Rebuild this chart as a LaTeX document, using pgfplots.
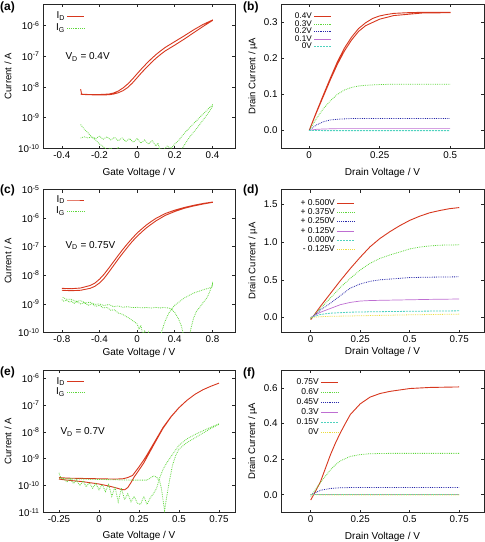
\documentclass[border=0pt]{standalone}
\usepackage{fontspec}
\setmainfont{Liberation Sans}
\usepackage{pgfplots}
\pgfplotsset{compat=1.18}
\definecolor{cred}{RGB}{215,55,30}
\definecolor{cgreen}{RGB}{95,215,60}
\definecolor{cblue}{RGB}{40,40,170}
\definecolor{cpurple}{RGB}{190,110,210}
\definecolor{ccyan}{RGB}{80,210,190}
\definecolor{cyellow}{RGB}{235,220,60}
\pgfplotsset{
 myBase/.style={scale only axis, anchor=north west,
  axis line style={black!85, line width=0.6pt},
  tick style={black!85, line width=0.6pt},
  tick align=inside, major tick length=3pt,
  tick label style={font=\fontsize{9.8}{10}\selectfont},
  xlabel style={font=\fontsize{10}{11}\selectfont},
  ylabel style={font=\fontsize{9.5}{10}\selectfont},
  /pgf/number format/assume math mode=true,
  legend plot pos=right, legend cell align=right,
  legend style={draw=none, fill=none, inner sep=0pt, row sep=0pt, anchor=north east},
  clip=true},
 rd/.style={cred, line width=0.9pt},
 gr/.style={cgreen, line width=0.8pt, densely dotted},
 bl/.style={cblue, line width=0.8pt, densely dotted},
 pu/.style={cpurple, line width=0.7pt},
 cy/.style={ccyan, line width=0.8pt, dash pattern=on 2pt off 1pt},
 ye/.style={cyellow, line width=0.8pt, densely dotted},
}
\newcommand{\supx}[1]{\textsuperscript{#1}}
\begin{document}
\begin{tikzpicture}
\useasboundingbox (0pt,0pt) rectangle (485pt,-542pt);
% ---------------- (a)
\begin{axis}[myBase, ymode=log, yminorticks=false, at={(43pt,-4pt)}, width=192pt, height=144.5pt,
 xmin=-0.5, xmax=0.52, ymin=1e-10, ymax=5e-6,
 xtick={-0.4,-0.2,0,0.2,0.4}, xticklabels={-0.4,-0.2,0,0.2,0.4},
 ytick={1e-10,1e-9,1e-8,1e-7,1e-6},
 yticklabels={10\supx{-10},10\supx{-9},10\supx{-8},10\supx{-7},10\supx{-6}},
 xlabel={Gate Voltage / V}, ylabel={Current / A},
 xlabel style={at={(axis description cs:0.5,-0.17)},anchor=center},
 ylabel style={at={(axis description cs:-0.182,0.5)},anchor=center},
 legend style={at={(axis description cs:0.219,0.955)}, font=\fontsize{10}{10}\selectfont,
   nodes={inner ysep=0.75pt, text height=7.5pt, text depth=3pt}},
]
\addplot[rd] coordinates {(-0.3,8.5e-9) (-0.295,5.9e-9) (-0.28,5.7e-9) (-0.25,5.6e-9) (-0.2,5.5e-9) (-0.15,5.6e-9) (-0.125,5.9e-9) (-0.1,6.5e-9) (-0.075,7.6e-9) (-0.05,9.6e-9) (-0.025,1.35e-8) (0,2.0e-8) (0.025,3.0e-8) (0.05,4.3e-8) (0.075,6.2e-8) (0.1,8.6e-8) (0.125,1.15e-7) (0.15,1.5e-7) (0.2,2.3e-7) (0.25,3.6e-7) (0.3,5.8e-7) (0.35,9.3e-7) (0.4,1.45e-6)
 (0.4,1.5e-6) (0.35,1.08e-6) (0.3,7.2e-7) (0.25,4.6e-7) (0.2,3.0e-7) (0.15,1.95e-7) (0.125,1.5e-7) (0.1,1.13e-7) (0.075,8.2e-8) (0.05,5.8e-8) (0.025,4.0e-8) (0,2.7e-8) (-0.025,1.8e-8) (-0.05,1.25e-8) (-0.075,9.3e-9) (-0.1,7.4e-9) (-0.125,6.4e-9) (-0.15,5.9e-9) (-0.2,5.7e-9) (-0.25,5.7e-9) (-0.3,5.8e-9)};
\addlegendentry{I\textsubscript{D}}
\addplot[gr] coordinates {(-0.3,6e-10) (-0.28,4.2e-10) (-0.26,3.2e-10) (-0.24,2.3e-10) (-0.22,1.9e-10) (-0.2,1.4e-10) (-0.18,1.15e-10) (-0.16,9e-11) (-0.14,1.05e-10) (-0.12,8e-11) (-0.1,1.1e-10) (-0.08,7e-11) (-0.06,9e-11) (-0.04,5e-11) (0,4e-11) (0.06,4e-11) (0.1,7e-11) (0.12,1.05e-10) (0.13,6e-11) (0.18,4e-11) (0.22,6e-11) (0.24,1e-10) (0.26,1.6e-10) (0.28,2.4e-10) (0.3,3.4e-10) (0.32,4.8e-10) (0.34,7e-10) (0.36,1.0e-9) (0.38,1.5e-9) (0.4,2.3e-9)
 (0.4,2.6e-9) (0.38,2.0e-9) (0.36,1.5e-9) (0.34,1.15e-9) (0.32,8.5e-10) (0.3,6.5e-10) (0.28,4.8e-10) (0.26,3.6e-10) (0.24,2.6e-10) (0.22,1.8e-10) (0.2,1.4e-10) (0.18,1.0e-10) (0.16,1.2e-10) (0.14,9e-11) (0.12,1.0e-10) (0.11,1.5e-10) (0.1,1.2e-10) (0.08,1.8e-10) (0.06,1.4e-10) (0.04,1.9e-10) (0.02,1.5e-10) (0,2.1e-10) (-0.02,1.6e-10) (-0.04,2.1e-10) (-0.06,1.7e-10) (-0.08,2.2e-10) (-0.1,1.8e-10) (-0.12,2.3e-10) (-0.14,1.9e-10) (-0.16,2.4e-10) (-0.18,2.0e-10) (-0.2,2.5e-10) (-0.22,2.1e-10) (-0.24,2.4e-10) (-0.26,2.2e-10) (-0.28,2.4e-10) (-0.3,2.2e-10)};
\addlegendentry{I\textsubscript{G}}
\node[anchor=west, font=\fontsize{10}{11}\selectfont] at (axis description cs:0.099,0.633) {V\textsubscript{D} = 0.4V};
\end{axis}
% ---------------- (b)
\begin{axis}[myBase, at={(281pt,-4pt)}, width=203pt, height=144.5pt,
 xmin=-0.1, xmax=0.62, ymin=-0.05, ymax=0.35,
 xtick={0,0.25,0.5}, xticklabels={0,0.25,0.5},
 ytick={0,0.1,0.2,0.3}, yticklabels={0.0,0.1,0.2,0.3},
 xlabel={Drain Voltage / V}, ylabel={Drain Current / µA},
 xlabel style={at={(axis description cs:0.5,-0.17)},anchor=center},
 ylabel style={at={(axis description cs:-0.138,0.5)},anchor=center},
 legend style={at={(axis description cs:0.251,0.94)}, font=\fontsize{8.2}{8.2}\selectfont,
   nodes={inner ysep=0.15pt, text height=5.8pt, text depth=1.4pt}},
]
\addplot[rd] coordinates {(0,0) (0.025,0.05) (0.05,0.098) (0.075,0.145) (0.1,0.19) (0.125,0.228) (0.15,0.258) (0.175,0.282) (0.2,0.298) (0.225,0.31) (0.25,0.317) (0.275,0.321) (0.3,0.324) (0.35,0.326) (0.4,0.327) (0.45,0.327) (0.5,0.327)
 (0.5,0.326) (0.4,0.325) (0.3,0.318) (0.25,0.308) (0.2,0.29) (0.175,0.274) (0.15,0.25) (0.125,0.22) (0.1,0.183) (0.075,0.14) (0.05,0.094) (0.025,0.048) (0,0)};
\addlegendentry{0.4V}
\addplot[gr] coordinates {(0,0) (0.025,0.032) (0.05,0.06) (0.075,0.082) (0.1,0.1) (0.125,0.112) (0.15,0.119) (0.175,0.123) (0.2,0.125) (0.25,0.127) (0.3,0.128) (0.4,0.128) (0.5,0.128)};
\addlegendentry{0.3V}
\addplot[bl] coordinates {(0,0) (0.025,0.015) (0.05,0.024) (0.075,0.029) (0.1,0.031) (0.15,0.033) (0.2,0.033) (0.3,0.033) (0.5,0.033)};
\addlegendentry{0.2V}
\addplot[pu] coordinates {(0,0) (0.025,0.003) (0.05,0.004) (0.1,0.005) (0.3,0.005) (0.5,0.005)};
\addlegendentry{0.1V}
\addplot[cy] coordinates {(0,0) (0.05,-0.0005) (0.2,-0.0005) (0.5,-0.0005)};
\addlegendentry{0V}
\end{axis}
% ---------------- (c)
\begin{axis}[myBase, ymode=log, yminorticks=false, at={(43pt,-189.5pt)}, width=192pt, height=143pt,
 xmin=-1.0, xmax=1.04, ymin=1e-10, ymax=1e-5,
 xtick={-0.8,-0.4,0,0.4,0.8}, xticklabels={-0.8,-0.4,0,0.4,0.8},
 ytick={1e-10,1e-9,1e-8,1e-7,1e-6,1e-5},
 yticklabels={10\supx{-10},10\supx{-9},10\supx{-8},10\supx{-7},10\supx{-6},10\supx{-5}},
 xlabel={Gate Voltage / V}, ylabel={Current / A},
 xlabel style={at={(axis description cs:0.5,-0.143)},anchor=center},
 ylabel style={at={(axis description cs:-0.182,0.5)},anchor=center},
 legend style={at={(axis description cs:0.219,0.969)}, font=\fontsize{10}{10}\selectfont,
   nodes={inner ysep=0.6pt, text height=7.5pt, text depth=3pt}},
]
\addplot[rd] coordinates {(-0.8,3.0e-9) (-0.7,2.9e-9) (-0.6,3.0e-9) (-0.5,3.5e-9) (-0.45,4.1e-9) (-0.4,5.4e-9) (-0.35,7.9e-9) (-0.3,1.3e-8) (-0.25,2.2e-8) (-0.2,3.7e-8) (-0.15,6.1e-8) (-0.1,9.8e-8) (-0.05,1.55e-7) (0,2.3e-7) (0.05,3.3e-7) (0.1,4.6e-7) (0.15,6.1e-7) (0.2,8.0e-7) (0.3,1.25e-6) (0.4,1.7e-6) (0.5,2.2e-6) (0.6,2.65e-6) (0.7,3.1e-6) (0.8,3.55e-6)
 (0.8,3.65e-6) (0.7,3.25e-6) (0.6,2.8e-6) (0.5,2.35e-6) (0.4,1.9e-6) (0.3,1.45e-6) (0.2,9.8e-7) (0.15,7.6e-7) (0.1,5.8e-7) (0.05,4.2e-7) (0,3.0e-7) (-0.05,2.0e-7) (-0.1,1.3e-7) (-0.15,8.2e-8) (-0.2,5.0e-8) (-0.25,3.0e-8) (-0.3,1.8e-8) (-0.35,1.1e-8) (-0.4,7.3e-9) (-0.45,5.3e-9) (-0.5,4.4e-9) (-0.6,3.6e-9) (-0.7,3.4e-9) (-0.8,3.5e-9)};
\addlegendentry{I\textsubscript{D}}
\addplot[gr] coordinates {(-0.8,1.4e-9) (-0.78,1.25e-9) (-0.75,1.35e-9) (-0.72,1.15e-9) (-0.7,1.25e-9) (-0.67,1.05e-9) (-0.64,1.2e-9) (-0.6,1.0e-9) (-0.56,1.1e-9) (-0.52,9.0e-10) (-0.48,1.0e-9) (-0.44,8.2e-10) (-0.4,9.0e-10) (-0.36,7.2e-10) (-0.32,7.6e-10) (-0.28,6.0e-10) (-0.24,6.2e-10) (-0.2,4.8e-10) (-0.16,4.4e-10) (-0.12,3.7e-10) (-0.08,3.1e-10) (-0.04,2.5e-10) (0,2.0e-10) (0.02,1.3e-10) (0.04,1.8e-10) (0.06,8e-11) (0.08,1.2e-10) (0.1,6e-11) (0.12,1e-10) (0.14,4e-11) (0.2,3e-11) (0.24,6e-11) (0.26,1.05e-10) (0.28,1.7e-10) (0.3,2.6e-10) (0.34,5e-10) (0.4,9e-10) (0.5,1.6e-9) (0.6,2.4e-9) (0.7,3.1e-9) (0.8,3.9e-9)
 (0.8,5e-9) (0.77,2.6e-9) (0.74,1.6e-9) (0.7,1.1e-9) (0.67,8e-10) (0.63,5.5e-10) (0.6,3.2e-10) (0.57,1.3e-10) (0.55,5e-11) (0.53,2e-11) (0.51,3e-11) (0.49,9e-11) (0.47,1.7e-10) (0.44,3e-10) (0.4,5e-10) (0.36,6.8e-10) (0.32,7.3e-10) (0.28,7.5e-10) (0.24,7.2e-10) (0.2,7.6e-10) (0.15,7.2e-10) (0.1,7.5e-10) (0.05,7.3e-10) (0,7.6e-10) (-0.05,7.4e-10) (-0.1,8e-10) (-0.15,7.6e-10) (-0.2,8.5e-10) (-0.25,8.0e-10) (-0.3,9.5e-10) (-0.35,8.8e-10) (-0.4,1.0e-9) (-0.45,9.6e-10) (-0.5,1.15e-9) (-0.55,1.08e-9) (-0.6,1.3e-9) (-0.65,1.22e-9) (-0.7,1.45e-9) (-0.75,1.45e-9) (-0.8,1.75e-9)};
\addlegendentry{I\textsubscript{G}}
\node[anchor=west, font=\fontsize{10}{11}\selectfont] at (axis description cs:0.099,0.607) {V\textsubscript{D} = 0.75V};
\end{axis}
% ---------------- (d)
\begin{axis}[myBase, at={(281pt,-189.5pt)}, width=203pt, height=143pt,
 xmin=-0.15, xmax=0.875, ymin=-0.2, ymax=1.7,
 xtick={0,0.25,0.5,0.75}, xticklabels={0,0.25,0.5,0.75},
 ytick={0,0.5,1.0,1.5}, yticklabels={0.0,0.5,1.0,1.5},
 xlabel={Drain Voltage / V}, ylabel={Drain Current / µA},
 xlabel style={at={(axis description cs:0.5,-0.136)},anchor=center},
 ylabel style={at={(axis description cs:-0.138,0.5)},anchor=center},
 legend style={at={(axis description cs:0.365,0.938)}, font=\fontsize{8.5}{8.5}\selectfont,
   nodes={inner ysep=0.5pt, text height=6.3pt, text depth=2pt}},
]
\addplot[rd] coordinates {(0,-0.03) (0.05,0.15) (0.1,0.32) (0.15,0.49) (0.2,0.65) (0.25,0.8) (0.3,0.94) (0.35,1.05) (0.4,1.14) (0.45,1.22) (0.5,1.29) (0.55,1.345) (0.6,1.39) (0.65,1.42) (0.7,1.445) (0.75,1.46)};
\addlegendentry{+ 0.500V}
\addplot[gr] coordinates {(0,-0.02) (0.05,0.12) (0.1,0.26) (0.15,0.4) (0.2,0.52) (0.25,0.63) (0.3,0.72) (0.35,0.785) (0.4,0.83) (0.45,0.87) (0.5,0.91) (0.55,0.935) (0.6,0.95) (0.65,0.96) (0.7,0.963) (0.75,0.965)};
\addlegendentry{+ 0.375V}
\addplot[bl] coordinates {(0,-0.01) (0.05,0.1) (0.1,0.19) (0.15,0.29) (0.2,0.39) (0.25,0.445) (0.3,0.48) (0.35,0.5) (0.4,0.51) (0.5,0.53) (0.6,0.535) (0.75,0.54)};
\addlegendentry{+ 0.250V}
\addplot[pu] coordinates {(0,0) (0.05,0.07) (0.1,0.12) (0.15,0.17) (0.2,0.2) (0.25,0.218) (0.3,0.225) (0.4,0.23) (0.5,0.235) (0.6,0.24) (0.75,0.245)};
\addlegendentry{+ 0.125V}
\addplot[cy] coordinates {(0,0) (0.05,0.04) (0.1,0.057) (0.2,0.07) (0.3,0.075) (0.5,0.082) (0.75,0.088)};
\addlegendentry{0.000V}
\addplot[ye] coordinates {(0,0) (0.05,0.01) (0.1,0.015) (0.3,0.025) (0.5,0.035) (0.75,0.044)};
\addlegendentry{- 0.125V}
\end{axis}
% ---------------- (e)
\begin{axis}[myBase, ymode=log, yminorticks=false, at={(43pt,-370pt)}, width=192pt, height=142.5pt,
 xmin=-0.35, xmax=0.85, ymin=1e-11, ymax=2e-6,
 xtick={-0.25,0,0.25,0.5,0.75}, xticklabels={-0.25,0,0.25,0.5,0.75},
 ytick={1e-11,1e-10,1e-9,1e-8,1e-7,1e-6},
 yticklabels={10\supx{-11},10\supx{-10},10\supx{-9},10\supx{-8},10\supx{-7},10\supx{-6}},
 xlabel={Gate Voltage / V}, ylabel={Current / A},
 xlabel style={at={(axis description cs:0.5,-0.165)},anchor=center},
 ylabel style={at={(axis description cs:-0.182,0.5)},anchor=center},
 legend style={at={(axis description cs:0.219,0.955)}, font=\fontsize{10}{10}\selectfont,
   nodes={inner ysep=0.3pt, text height=7.3pt, text depth=2.5pt}},
]
\addplot[rd] coordinates {(-0.25,1.75e-10) (-0.2,1.6e-10) (-0.1,1.4e-10) (0,1.15e-10) (0.05,1.0e-10) (0.1,8.5e-11) (0.14,7.2e-11) (0.16,7e-11) (0.18,8.5e-11) (0.2,1.3e-10) (0.22,2.1e-10) (0.25,3.8e-10) (0.28,7e-10) (0.3,1.15e-9) (0.35,4e-9) (0.4,1.35e-8) (0.45,3.6e-8) (0.5,7.9e-8) (0.55,1.5e-7) (0.6,2.5e-7) (0.65,3.7e-7) (0.7,5e-7) (0.75,6.5e-7)
 (0.75,6.5e-7) (0.7,5e-7) (0.65,3.7e-7) (0.6,2.5e-7) (0.55,1.5e-7) (0.5,8e-8) (0.45,3.7e-8) (0.4,1.45e-8) (0.35,4.5e-9) (0.3,1.4e-9) (0.28,9e-10) (0.25,5e-10) (0.21,2.4e-10) (0.18,2e-10) (0.15,1.8e-10) (0.1,1.75e-10) (0,1.8e-10) (-0.1,1.85e-10) (-0.2,1.9e-10) (-0.25,2e-10)};
\addlegendentry{I\textsubscript{D}}
\addplot[gr] coordinates {(-0.25,3e-10) (-0.24,2e-10) (-0.22,1.7e-10) (-0.2,1.4e-10) (-0.18,1.8e-10) (-0.16,1.2e-10) (-0.14,1.6e-10) (-0.12,1.0e-10) (-0.1,1.5e-10) (-0.08,9e-11) (-0.06,1.3e-10) (-0.04,8e-11) (-0.02,1.2e-10) (0,7e-11) (0.02,1.1e-10) (0.04,6e-11) (0.06,1.1e-10) (0.08,4e-11) (0.1,9e-11) (0.12,2.5e-11) (0.14,8e-11) (0.16,3e-11) (0.18,5e-11) (0.2,2.5e-11) (0.22,4e-11) (0.24,2.2e-11) (0.26,2e-11) (0.28,4e-11) (0.3,2e-11) (0.32,3.5e-11) (0.34,5e-11) (0.36,8e-11) (0.38,2e-10) (0.4,4e-10) (0.42,6.5e-10) (0.45,1.2e-9) (0.5,3.2e-9) (0.55,5.5e-9) (0.6,8e-9) (0.65,1.1e-8) (0.7,1.5e-8) (0.75,2e-8)
 (0.75,1.9e-8) (0.7,1.35e-8) (0.65,9e-9) (0.6,6e-9) (0.55,4e-9) (0.5,2.3e-9) (0.48,1.35e-9) (0.46,6e-10) (0.44,1.5e-10) (0.42,3e-11) (0.41,1.2e-11) (0.4,3e-11) (0.39,8e-11) (0.38,1.4e-10) (0.36,2.1e-10) (0.34,2.3e-10) (0.32,1.9e-10) (0.3,1.6e-10) (0.2,1.6e-10) (0.1,1.65e-10) (0,1.7e-10) (-0.1,1.75e-10) (-0.2,1.8e-10) (-0.25,1.9e-10)};
\addlegendentry{I\textsubscript{G}}
\node[anchor=west, font=\fontsize{10}{11}\selectfont] at (axis description cs:0.073,0.565) {V\textsubscript{D} = 0.7V};
\end{axis}
% ---------------- (f)
\begin{axis}[myBase, at={(281pt,-370pt)}, width=203pt, height=142.5pt,
 xmin=-0.15, xmax=0.875, ymin=-0.1, ymax=0.7,
 xtick={0,0.25,0.5,0.75}, xticklabels={0,0.25,0.5,0.75},
 ytick={0,0.2,0.4,0.6}, yticklabels={0.0,0.2,0.4,0.6},
 xlabel={Drain Voltage / V}, ylabel={Drain Current / µA},
 xlabel style={at={(axis description cs:0.5,-0.17)},anchor=center},
 ylabel style={at={(axis description cs:-0.14,0.5)},anchor=center},
 legend style={at={(axis description cs:0.286,0.949)}, font=\fontsize{8.5}{8.5}\selectfont,
   nodes={inner ysep=0.7pt, text height=6.5pt, text depth=2.1pt}},
]
\addplot[rd] coordinates {(0,-0.03) (0.025,0.02) (0.05,0.075) (0.075,0.15) (0.1,0.225) (0.125,0.29) (0.15,0.348) (0.175,0.4) (0.2,0.45) (0.25,0.51) (0.3,0.548) (0.35,0.568) (0.4,0.58) (0.5,0.596) (0.6,0.602) (0.75,0.605)};
\addlegendentry{0.75V}
\addplot[gr] coordinates {(0,-0.01) (0.025,0.03) (0.05,0.07) (0.075,0.105) (0.1,0.14) (0.125,0.168) (0.15,0.19) (0.2,0.215) (0.25,0.225) (0.3,0.23) (0.4,0.232) (0.75,0.232)};
\addlegendentry{0.6V}
\addplot[bl] coordinates {(0,0) (0.025,0.012) (0.05,0.025) (0.1,0.035) (0.15,0.039) (0.2,0.04) (0.75,0.04)};
\addlegendentry{0.45V}
\addplot[pu] coordinates {(0,0) (0.05,0.001) (0.75,0.001)};
\addlegendentry{0.3V}
\addplot[cy] coordinates {(0,0) (0.05,0) (0.75,0)};
\addlegendentry{0.15V}
\addplot[ye] coordinates {(0,0) (0.05,-0.001) (0.75,-0.001)};
\addlegendentry{0V}
\end{axis}
% panel letters
\begin{scope}[every node/.style={anchor=west, inner sep=0pt, font=\bfseries\fontsize{12}{13}\selectfont}]
\node at (0pt,-7.5pt) {(a)};
\node at (243pt,-7.5pt) {(b)};
\node at (0pt,-190.5pt) {(c)};
\node at (243pt,-190pt) {(d)};
\node at (0pt,-372pt) {(e)};
\node at (243pt,-373pt) {(f)};
\end{scope}
\end{tikzpicture}
\end{document}
